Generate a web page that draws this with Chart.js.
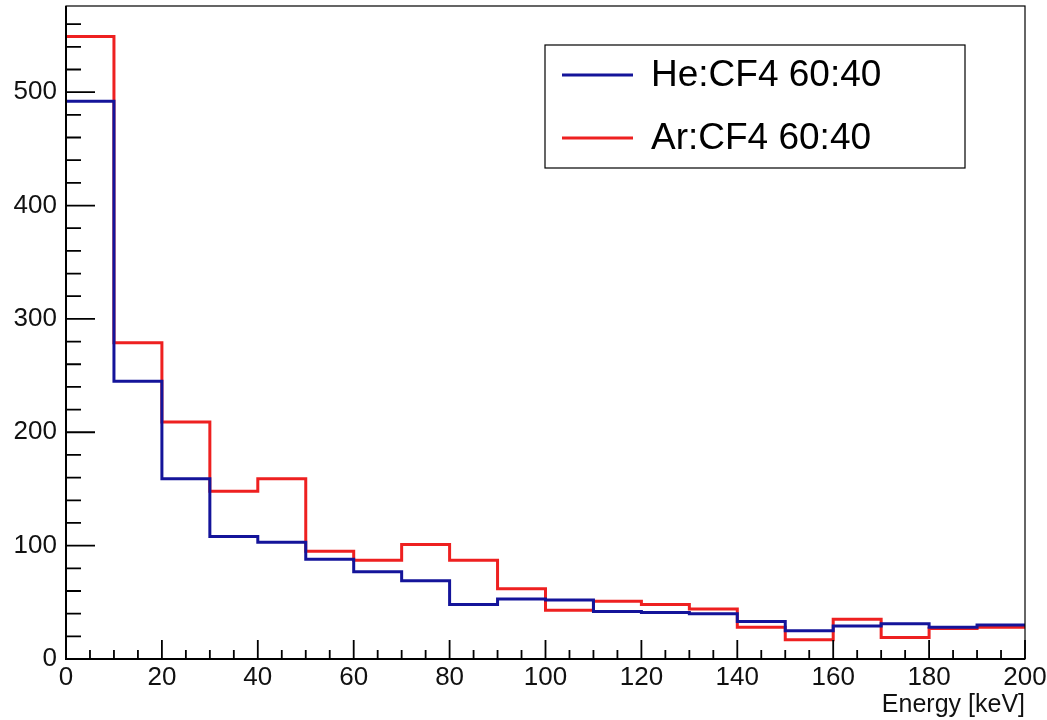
<!DOCTYPE html>
<html>
<head>
<meta charset="utf-8">
<script src="https://cdn.jsdelivr.net/npm/chart.js@4/dist/chart.umd.min.js"></script>
<style>
  html, body { margin: 0; padding: 0; background: #fff; }
  #wrap { width: 1047px; height: 720px; }
</style>
</head>
<body>
<div id="wrap"><canvas id="c" width="1047" height="720"></canvas></div>
<script>
// ---- data ----
const binEdges = [0, 10, 20, 30, 40, 50, 60, 70, 80, 90, 100, 110, 120, 130, 140, 150, 160, 170, 180, 190, 200];
const heCounts = [492, 245, 159, 108, 103, 88, 77, 69, 48, 53, 52, 42, 41, 40, 33, 25, 29, 31, 28, 30];
const arCounts = [549, 279, 209, 148, 159, 95, 87, 101, 87, 62, 43, 51, 48, 44, 28, 17, 35, 19, 27, 28];
const seriesLabels = ['He:CF4 60:40', 'Ar:CF4 60:40'];
const xTickLabels = [0, 20, 40, 60, 80, 100, 120, 140, 160, 180, 200];
const yTickLabels = [0, 100, 200, 300, 400, 500];
const xMinorTicks = [5, 10, 15, 25, 30, 35, 45, 50, 55, 65, 70, 75, 85, 90, 95, 105, 110, 115, 125, 130, 135, 145, 150, 155, 165, 170, 175, 185, 190, 195];
const yMinorTicks = [20, 40, 60, 80, 120, 140, 160, 180, 220, 240, 260, 280, 320, 340, 360, 380, 420, 440, 460, 480, 520, 540, 560];
const xTitle = 'Energy [keV]';
const yMax = 576;

function histPoints(counts) {
  const pts = counts.map((v, i) => ({ x: binEdges[i], y: v }));
  pts.push({ x: binEdges[binEdges.length - 1], y: counts[counts.length - 1] });
  return pts;
}

const BLUE = '#14149a';
const RED = '#ee2020';
const FONT = "'Liberation Sans', Arial, Helvetica, sans-serif";

const framePlugin = {
  id: 'rootFrame',
  afterDatasetsDraw(chart) {
    const ctx = chart.ctx;
    const xs = chart.scales.x, ys = chart.scales.y;
    const a = chart.chartArea;
    ctx.save();
    ctx.strokeStyle = '#000';
    ctx.lineWidth = 1.2;
    ctx.strokeRect(a.left, a.top, a.right - a.left, a.bottom - a.top);
    ctx.lineWidth = 2;
    ctx.beginPath();
    ctx.moveTo(a.left, a.top); ctx.lineTo(a.left, a.bottom); ctx.lineTo(a.right, a.bottom);
    ctx.stroke();
    ctx.lineWidth = 1.8;
    ctx.beginPath();
    yTickLabels.forEach(v => { const y = ys.getPixelForValue(v); ctx.moveTo(a.left, y); ctx.lineTo(a.left + 29, y); });
    yMinorTicks.forEach(v => { const y = ys.getPixelForValue(v); ctx.moveTo(a.left, y); ctx.lineTo(a.left + 15, y); });
    xTickLabels.forEach(v => { const x = xs.getPixelForValue(v); ctx.moveTo(x, a.bottom); ctx.lineTo(x, a.bottom - 19); });
    xMinorTicks.forEach(v => { const x = xs.getPixelForValue(v); ctx.moveTo(x, a.bottom); ctx.lineTo(x, a.bottom - 9); });
    ctx.stroke();
    ctx.restore();
  },
  afterDraw(chart) {
    const ctx = chart.ctx;
    ctx.save();
    const bx = 545, by = 45, bw = 420, bh = 123;
    ctx.fillStyle = '#fff';
    ctx.fillRect(bx, by, bw, bh);
    ctx.strokeStyle = '#000';
    ctx.lineWidth = 1.2;
    ctx.strokeRect(bx, by, bw, bh);
    const rows = [75, 138];
    chart.data.datasets.forEach((ds, i) => {
      ctx.strokeStyle = ds.borderColor;
      ctx.lineWidth = 3;
      ctx.beginPath();
      ctx.moveTo(562, rows[i]); ctx.lineTo(633, rows[i]);
      ctx.stroke();
      ctx.fillStyle = '#000';
      ctx.font = '37px ' + FONT;
      ctx.textBaseline = 'middle';
      ctx.textAlign = 'left';
      ctx.fillText(ds.label, 651, rows[i] + 1);
    });
    ctx.restore();
  }
};

new Chart(document.getElementById('c'), {
  type: 'line',
  data: {
    datasets: [
      { label: seriesLabels[0], data: histPoints(heCounts), borderColor: BLUE, borderWidth: 3, stepped: 'before', pointRadius: 0, fill: false },
      { label: seriesLabels[1], data: histPoints(arCounts), borderColor: RED, borderWidth: 3, stepped: 'before', pointRadius: 0, fill: false }
    ]
  },
  options: {
    responsive: false,
    animation: false,
    layout: { padding: { left: 0, top: 6, right: 22, bottom: 0 } },
    plugins: { legend: { display: false }, tooltip: { enabled: false } },
    scales: {
      x: {
        type: 'linear', min: 0, max: 200,
        grid: { display: false, drawTicks: false },
        border: { display: false },
        afterBuildTicks: s => { s.ticks = xTickLabels.map(v => ({ value: v })); },
        afterFit: s => { s.height = 61; s.paddingLeft = 0; s.paddingRight = 0; },
        ticks: { font: { family: FONT, size: 26 }, color: '#111', padding: 3, maxRotation: 0, autoSkip: false },
        title: { display: true, text: xTitle, align: 'end', color: '#111', font: { family: FONT, size: 25 }, padding: { top: 0, bottom: 0 } }
      },
      y: {
        type: 'linear', min: 0, max: yMax,
        grid: { display: false, drawTicks: false },
        border: { display: false },
        afterBuildTicks: s => { s.ticks = yTickLabels.map(v => ({ value: v })); },
        afterFit: s => { s.width = 66; s.paddingTop = 0; s.paddingBottom = 0; },
        ticks: { font: { family: FONT, size: 26 }, color: '#111', padding: 9, autoSkip: false }
      }
    }
  },
  plugins: [framePlugin]
});
</script>
</body>
</html>
